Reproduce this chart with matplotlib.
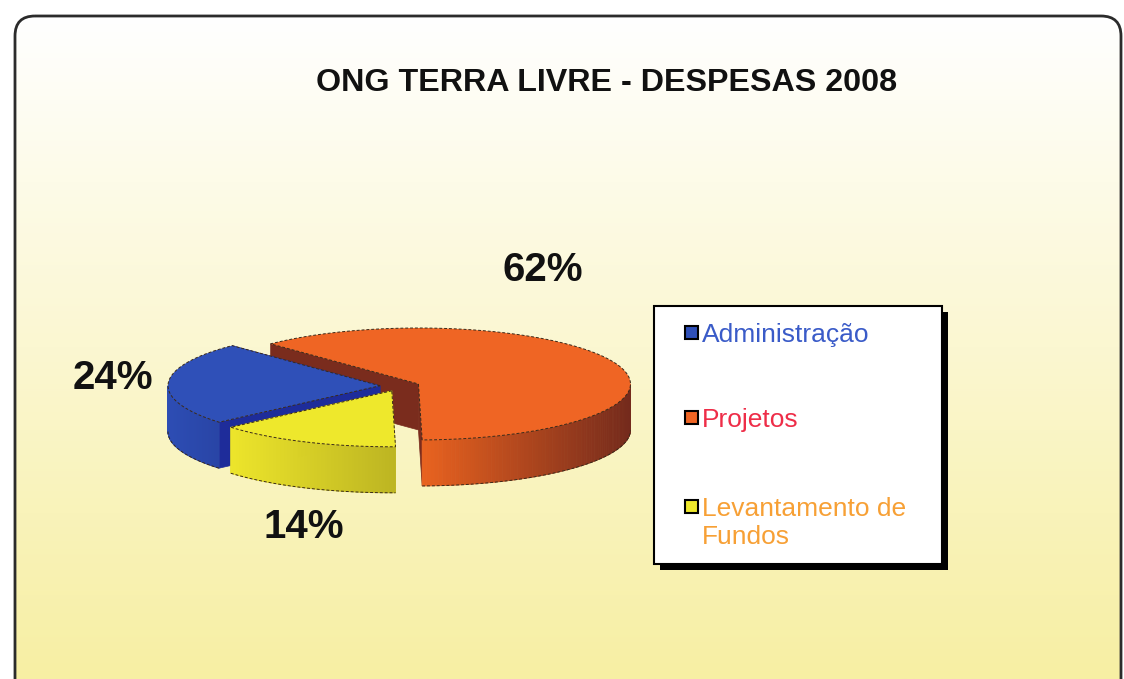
import numpy as np
import matplotlib.pyplot as plt
from matplotlib.patches import Polygon, FancyBboxPatch, Rectangle
from matplotlib.colors import to_rgb

# data
categories = ['Administração', 'Projetos', 'Levantamento de\nFundos']
values = [24, 62, 14]
pct_labels = ['24%', '62%', '14%']

top_colors = ['#2F50B8', '#EF6524', '#EEE82C']
side_light = ['#2D4DB4', '#E8621F', '#EDE52B']
side_dark = ['#2945A6', '#742A1C', '#BDB522']
face_colors = ['#1E2C9A', '#7A2C1D', '#D6CE24']
text_colors = ['#3A5BC8', '#EE2D48', '#F7A035']

W, H = 1124, 679
fig = plt.figure(figsize=(W / 100, H / 100), dpi=100)
ax = fig.add_axes([0, 0, 1, 1])
ax.set_xlim(0, W)
ax.set_ylim(H, 0)
ax.axis('off')

# rounded frame with white -> pale yellow gradient
frame = FancyBboxPatch((15, 16), 1106, 700, boxstyle='round,pad=0,rounding_size=20',
                       facecolor='none', edgecolor='#2b2b2b', lw=2, zorder=3)
ax.add_patch(frame)
grad = np.linspace(0, 1, 256)[:, None, None]
c0, c1 = np.array(to_rgb('#FFFFFF')), np.array(to_rgb('#F7EFA3'))
img = c0 + (c1 - c0) * grad
bg = ax.imshow(np.repeat(img, 2, axis=1), extent=(15, 1121, 679, 16),
               aspect='auto', zorder=1)
bg.set_clip_path(frame)

ax.text(607, 83, 'ONG TERRA LIVRE - DESPESAS 2008', ha='center', va='center',
        fontsize=23.2, fontweight='bold', family='Liberation Sans', color='#111111', zorder=5)

# 3D pie geometry
cx, cy = 400, 386
R, k, depth, explode = 212, 0.264, 46, 20
start = 220.6


def proj(x, y, z=0):
    return (cx + x, cy - y * k + z)


z = 10
bounds = []
t1 = start
for v in values:
    t2 = t1 - v * 3.6
    bounds.append((t2, t1))
    t1 = t2

mids = [np.radians((a + b) / 2) for a, b in bounds]
order = sorted(range(len(values)), key=lambda i: -np.sin(mids[i]))

for i in order:
    a, b = np.radians(bounds[i][0]), np.radians(bounds[i][1])
    m = mids[i]
    ox, oy = explode * np.cos(m), explode * np.sin(m)
    ts = np.linspace(a, b, 200)

    # radial faces: hidden ones first
    faces = []
    for t, sgn in ((a, -1), (b, 1)):
        vis = np.sin(t + sgn * np.pi / 2) < 0
        ex, ey = ox + R * np.cos(t), oy + R * np.sin(t)
        quad = [proj(ox, oy), proj(ex, ey), proj(ex, ey, depth), proj(ox, oy, depth)]
        faces.append((vis, quad))
    faces.sort(key=lambda f: f[0])
    for vis, quad in faces:
        ax.add_patch(Polygon(quad, closed=True, facecolor=face_colors[i],
                             edgecolor=face_colors[i], lw=0.5, zorder=z))
        z += 1

    # outer curved side, shaded left to right
    front = [j for j in range(len(ts) - 1) if np.sin((ts[j] + ts[j + 1]) / 2) < 0]
    if front:
        xs = [cx + ox + R * np.cos(ts[j]) for j in front]
        xmin, xmax = min(xs), max(xs)
        cl, cd = np.array(to_rgb(side_light[i])), np.array(to_rgb(side_dark[i]))
        for j in front:
            p = [(ox + R * np.cos(ts[j]), oy + R * np.sin(ts[j])),
                 (ox + R * np.cos(ts[j + 1]), oy + R * np.sin(ts[j + 1]))]
            quad = [proj(*p[0]), proj(*p[1]), proj(*p[1], depth), proj(*p[0], depth)]
            f = (cx + p[0][0] - xmin) / max(xmax - xmin, 1)
            col = cl + (cd - cl) * f
            ax.add_patch(Polygon(quad, closed=True, facecolor=col, edgecolor=col,
                                 lw=0.6, zorder=z))
        z += 1
        seg = [ts[j] for j in front] + [ts[front[-1] + 1]]
        bx = [proj(ox + R * np.cos(t), oy + R * np.sin(t), depth) for t in seg]
        ax.plot([p[0] for p in bx], [p[1] for p in bx], color='#3a2a1a', lw=0.7,
                ls=(0, (3, 2)), zorder=z)
        z += 1

    # top face
    top = [proj(ox, oy)] + [proj(ox + R * np.cos(t), oy + R * np.sin(t)) for t in ts]
    ax.add_patch(Polygon(top, closed=True, facecolor=top_colors[i],
                         edgecolor='#3a2a1a', lw=0.7, ls=(0, (3, 2)), zorder=z))
    z += 1

# percentage labels
label_pos = [(113, 378), (543, 270), (304, 527)]
for (lx, ly), s in zip(label_pos, pct_labels):
    ax.text(lx, ly, s, ha='center', va='center', fontsize=29, fontweight='bold',
            family='Liberation Sans', color='#111111', zorder=50)

# legend
lx0, ly0, lw_, lh_ = 654, 306, 288, 258
ax.add_patch(Rectangle((lx0 + 6, ly0 + 6), lw_, lh_, facecolor='black', zorder=40))
ax.add_patch(Rectangle((lx0, ly0), lw_, lh_, facecolor='white', edgecolor='black',
                       lw=1.5, zorder=41))
entry_y = [333, 418, 507]
line_gap = 28
for yy, name, fc, tc in zip(entry_y, categories, top_colors, text_colors):
    ax.add_patch(Rectangle((685, yy - 7), 13, 13, facecolor=fc, edgecolor='black',
                           lw=1.5, zorder=42))
    for n, line in enumerate(name.split('\n')):
        ax.text(702, yy + 9 + n * line_gap, line, ha='left', va='baseline', fontsize=19,
                family='Liberation Sans', color=tc, zorder=42)

fig.savefig('out.png', dpi=100)
